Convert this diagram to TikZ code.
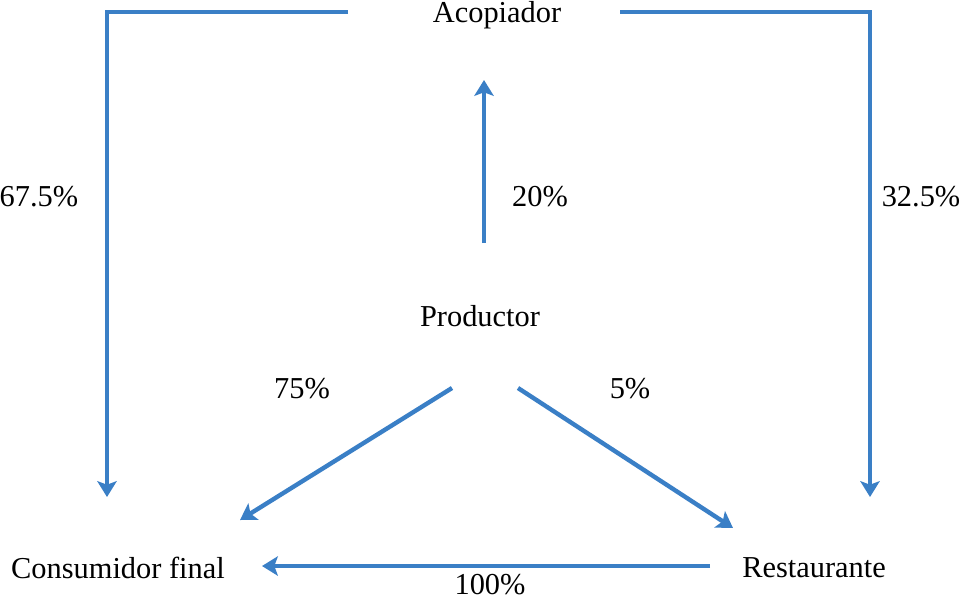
\documentclass[tikz,border=0pt]{standalone}
\usepackage{fontspec}
\setmainfont{Liberation Serif}
\usetikzlibrary{arrows.meta,positioning}
\definecolor{flowblue}{RGB}{58,127,198}
\tikzset{
  flow/.style={draw=flowblue, line width=2.5pt, -{Stealth[length=9pt,width=11pt,inset=2pt]}},
  lbl/.style={font=\fontsize{17.3}{20}\selectfont, inner sep=0pt},
}
\begin{document}
\begin{tikzpicture}[x=0.02cm,y=-0.02cm]
  \useasboundingbox (0,0) rectangle (962,600);
  % actors
  \node[lbl] (acop) at (497,15) {Acopiador};
  \node[lbl] (prod) at (480,316) {Productor};
  \node[lbl] (cons) at (118,568) {Consumidor final};
  \node[lbl] (rest) at (814,568) {Restaurante};
  % arrow ends
  \coordinate (acopL) at (348,12);
  \coordinate (acopR) at (620,12);
  \coordinate (consIn) at (107,497);
  \coordinate (restIn) at (870,497);
  \coordinate (prodUp) at (484,243);
  \coordinate (acopIn) at (484,80);
  \coordinate (prodL) at (452,388);
  \coordinate (consDg) at (240,520);
  \coordinate (prodR) at (518,388);
  \coordinate (restDg) at (733,528);
  \coordinate (restOut) at (710,566);
  \coordinate (consOut) at (262,566);
  % flows
  \draw[flow] (acopL) -| (consIn);
  \draw[flow] (acopR) -| (restIn);
  \draw[flow] (prodUp) -- (acopIn);
  \draw[flow] (prodL) -- (consDg);
  \draw[flow] (prodR) -- (restDg);
  \draw[flow] (restOut) -- (consOut);
  % shares
  \node[lbl] (p675) at (39,197) {67.5\%};
  \node[lbl] (p325) at (921,197) {32.5\%};
  \node[lbl] (p20) at (540,197) {20\%};
  \node[lbl] (p75) at (302,389) {75\%};
  \node[lbl] (p5) at (630,389) {5\%};
  \node[lbl] (p100) at (490,585) {100\%};
\end{tikzpicture}
\end{document}
